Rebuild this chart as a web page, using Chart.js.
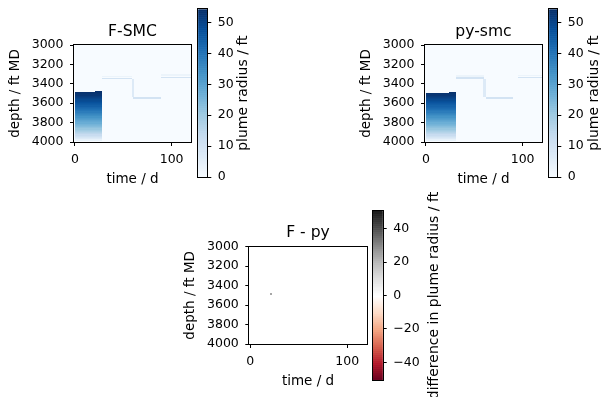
<!DOCTYPE html>
<html>
<head>
<meta charset="utf-8">
<script src="https://cdn.jsdelivr.net/npm/chart.js@4.4.1/dist/chart.umd.min.js"></script>
<style>
html, body { margin: 0; padding: 0; background: #fff; }
#fig { position: relative; width: 613px; height: 397px; overflow: hidden; }
#fig canvas { position: absolute; }
</style>
</head>
<body>
<div id="fig">
  <canvas id="panelF"></canvas>
  <canvas id="panelPy"></canvas>
  <canvas id="panelDiff"></canvas>
  <canvas id="barF"></canvas>
  <canvas id="barPy"></canvas>
  <canvas id="barDiff"></canvas>
</div>
<script>
/*
  plume radius vs depth and time, F-SMC / py-smc and their difference
*/

// ticks
const depthTicks = [3000, 3200, 3400, 3600, 3800, 4000];
const timeTicks = [0, 100];
const radiusTicks = [0, 10, 20, 30, 40, 50];
const diffTicks = [-40, -20, 0, 20, 40];

// colour limits
const radiusMax = 54.3;
const diffLimit = 50.5;

// injection period, 12.5 ft rows below the injection point (row tops, ft MD)
const profileDepthFt = [3485, 3497.5, 3510, 3522.5, 3535, 3547.5, 3560, 3572.5, 3585, 3597.5,
                        3610, 3622.5, 3635, 3647.5, 3660, 3672.5, 3685, 3697.5, 3710, 3722.5,
                        3735, 3747.5, 3760, 3772.5, 3785, 3797.5, 3810, 3822.5, 3835, 3847.5,
                        3860, 3872.5, 3885, 3897.5, 3910, 3922.5, 3935, 3947.5, 3960, 3972.5];
const profileBottomFt = 3985;

// plume radius per row (ft)
const fRadiusFt  = [54, 53.5, 53, 52, 51, 50, 49, 48.5, 47.5, 46.5,
                    45.5, 44.5, 43, 42, 41, 40, 38.5, 37, 36, 35,
                    33.5, 32, 31, 29.5, 28.5, 27.5, 26, 25, 24, 22.5,
                    21, 19.5, 18, 16.5, 15, 13, 11, 9, 7, 4];
const pyRadiusFt = [54, 53.5, 53, 52, 51, 50, 49, 48, 47, 46,
                    45, 44, 43, 42, 41, 39.5, 38.5, 37, 36, 34.5,
                    33.5, 32, 31, 29.5, 28.5, 27, 26, 25, 23.5, 22.5,
                    21, 19.5, 18, 16.5, 15, 13, 11, 9, 7, 4];

// injection blocks: [start d, end d, top ft]
const fBlocks  = [[0, 20.6, 3487], [20.6, 28.5, 3474]];
const pyBlocks = [[0, 23.4, 3497], [23.4, 31, 3481]];

// shut-in traces: [start d, end d, top ft, bottom ft, radius ft]
const fTraces = [
    [28.5, 59, 3316, 3332, 3],
    [28.5, 59, 3336, 3351, 10],
    [58.8, 60.8, 3351, 3538, 7],
    [60, 89.5, 3538, 3552, 10],
    [89.5, 120, 3302, 3318, 3],
    [89.5, 120, 3325, 3340, 10]
];
const pyTraces = [
    [31, 60, 3314, 3330, 3],
    [31, 60, 3334, 3349, 10],
    [59.5, 61.8, 3349, 3540, 7],
    [62, 90.4, 3540, 3554, 10],
    [95, 120, 3306, 3322, 3],
    [95, 120, 3330, 3345, 10]
];

// F - py
const diffCells = [
    [20.8, 22, 3480, 3500, 24]
];

/*
  colour maps
*/

const BLUES = ["#f7fbff", "#deebf7", "#c6dbef", "#9ecae1", "#6baed6",
               "#4292c6", "#2171b5", "#08519c", "#08306b"];
const RDGY = ["#67001f", "#b2182b", "#d6604d", "#f4a582", "#fddbc7", "#ffffff",
              "#e0e0e0", "#bababa", "#878787", "#4d4d4d", "#1a1a1a"];

function hexRgb(h){
    return [1, 3, 5].map(i => parseInt(h.substr(i, 2), 16));
}

function cmapColor(stops, t){
    t = Math.min(1, Math.max(0, t));
    const p = t * (stops.length - 1);
    const i = Math.min(stops.length - 2, Math.floor(p));
    const f = p - i;
    const a = hexRgb(stops[i]);
    const b = hexRgb(stops[i + 1]);
    const c = a.map((v, k) => Math.round(v + (b[k] - v) * f));
    return "rgb(" + c.join(",") + ")";
}

function plumeCells(blocks, radius, traces){
    const cells = [];
    blocks.forEach(([t0, t1, top]) => {
        profileDepthFt.forEach((d, i) => {
            const d0 = i === 0 ? top : d;
            const d1 = i + 1 < profileDepthFt.length ? profileDepthFt[i + 1] : profileBottomFt;
            cells.push([t0, t1, d0, d1, radius[i]]);
        });
    });
    return cells.concat(traces);
}

/*
  layout
*/

Chart.defaults.font.family = "'DejaVu Sans', sans-serif";
Chart.defaults.color = "#000";

const FONT_TICK = 12.5;
const FONT_LABEL = 13.5;
const FONT_CBAR = 14;
const FONT_TITLE = 15.6;

function place(canvas, box){
    canvas.width = box[2];
    canvas.height = box[3];
    canvas.style.left = box[0] + "px";
    canvas.style.top = box[1] + "px";
}

function fmt(v){
    return v < 0 ? "\u2212" + Math.abs(v) : String(v);
}

/*
  heatmap panels
*/

function heatmapLayer(cells, stops, vmin, vmax){
    return {
        id: "heatmap",
        beforeDatasetsDraw(chart){
            const {ctx, chartArea: a, scales: {x, y}} = chart;
            ctx.save();
            ctx.beginPath();
            ctx.rect(a.left, a.top, a.width, a.height);
            ctx.clip();
            ctx.fillStyle = cmapColor(stops, (0 - vmin) / (vmax - vmin));
            ctx.fillRect(a.left, a.top, a.width, a.height);
            cells.forEach(([t0, t1, d0, d1, v]) => {
                const px0 = Math.round(x.getPixelForValue(t0));
                const px1 = Math.round(x.getPixelForValue(t1));
                const py0 = Math.round(y.getPixelForValue(d0));
                const py1 = Math.round(y.getPixelForValue(d1));
                ctx.fillStyle = cmapColor(stops, (v - vmin) / (vmax - vmin));
                ctx.fillRect(Math.min(px0, px1), Math.min(py0, py1),
                             Math.max(1, Math.abs(px1 - px0)), Math.max(1, Math.abs(py1 - py0)));
            });
            ctx.restore();
        },
        afterDraw(chart){
            const {ctx, chartArea: a} = chart;
            ctx.save();
            ctx.strokeStyle = "#000";
            ctx.lineWidth = 1;
            ctx.strokeRect(Math.round(a.left) - 0.5, Math.round(a.top) - 0.5,
                           Math.round(a.right) - Math.round(a.left) + 1,
                           Math.round(a.bottom) - Math.round(a.top) + 1);
            ctx.restore();
        }
    };
}

function renderPanel(id, box, area, title, cells, stops, vmin, vmax){
    const canvas = document.getElementById(id);
    place(canvas, box);

    const yAxisW = area[0] - box[0];
    const xAxisH = box[1] + box[3] - area[3];
    const top = area[1] - box[1];
    const lh = FONT_TITLE * 1.2;
    const titleTop = (top - 13.5) - lh / 2;

    return new Chart(canvas, {
        type: "scatter",
        data: { datasets: [{ data: [] }] },
        options: {
            responsive: false,
            animation: false,
            events: [],
            layout: { padding: { left: 0, top: 0, bottom: 0, right: box[0] + box[2] - area[2] } },
            plugins: {
                legend: { display: false },
                tooltip: { enabled: false },
                title: {
                    display: true,
                    text: title,
                    fullSize: false,
                    color: "#000",
                    font: { size: FONT_TITLE, weight: "normal" },
                    padding: { top: titleTop, bottom: top - titleTop - lh }
                }
            },
            scales: {
                x: {
                    type: "linear",
                    min: -0.9,
                    max: 120,
                    afterBuildTicks: s => { s.ticks = timeTicks.map(v => ({ value: v })); },
                    afterFit: s => { s.height = xAxisH; },
                    ticks: { font: { size: FONT_TICK }, padding: 6, maxRotation: 0, callback: fmt },
                    grid: { drawOnChartArea: false, drawTicks: true, tickLength: 4, color: "#000" },
                    border: { display: false },
                    title: { display: true, text: "time / d", font: { size: FONT_LABEL }, padding: { top: 0, bottom: 7.4 } }
                },
                y: {
                    type: "linear",
                    reverse: true,
                    min: 3000,
                    max: 4000,
                    afterBuildTicks: s => { s.ticks = depthTicks.map(v => ({ value: v })); },
                    afterFit: s => { s.width = yAxisW; },
                    ticks: { font: { size: FONT_TICK }, padding: 6.5, callback: fmt },
                    grid: { drawOnChartArea: false, drawTicks: true, tickLength: 4, color: "#000" },
                    border: { display: false },
                    title: { display: true, text: "depth / ft MD", font: { size: FONT_LABEL }, padding: { top: 6.9, bottom: 0 } }
                }
            }
        },
        plugins: [heatmapLayer(cells, stops, vmin, vmax)]
    });
}

/*
  colour bars
*/

function colorbarLayer(stops, vmin, vmax, label, labelOffset){
    return {
        id: "colorbar",
        beforeDatasetsDraw(chart){
            const {ctx, chartArea: a, scales: {y}} = chart;
            const n = 256;
            ctx.save();
            for(let i = 0; i < n; i++){
                const y0 = y.getPixelForValue(vmin + (vmax - vmin) * i / n);
                const y1 = y.getPixelForValue(vmin + (vmax - vmin) * (i + 1) / n);
                ctx.fillStyle = cmapColor(stops, (i + 0.5) / n);
                ctx.fillRect(a.left, y1, a.width, y0 - y1 + 0.6);
            }
            ctx.strokeStyle = "#000";
            ctx.lineWidth = 1;
            ctx.strokeRect(Math.round(a.left) - 0.5, Math.round(a.top) - 0.5,
                           Math.round(a.right) - Math.round(a.left) + 1,
                           Math.round(a.bottom) - Math.round(a.top) + 1);
            ctx.restore();
        },
        afterDraw(chart){
            const {ctx, chartArea: a} = chart;
            ctx.save();
            ctx.fillStyle = "#000";
            ctx.font = FONT_CBAR + "px 'DejaVu Sans', sans-serif";
            ctx.textAlign = "center";
            ctx.textBaseline = "middle";
            ctx.translate(a.right + labelOffset, (a.top + a.bottom) / 2);
            ctx.rotate(-Math.PI / 2);
            ctx.fillText(label, 0, 0);
            ctx.restore();
        }
    };
}

function renderColorbar(id, box, strip, stops, vmin, vmax, ticks, label, labelOffset){
    const canvas = document.getElementById(id);
    place(canvas, box);

    return new Chart(canvas, {
        type: "scatter",
        data: { datasets: [{ data: [] }] },
        options: {
            responsive: false,
            animation: false,
            events: [],
            layout: {
                padding: {
                    left: strip[0] - box[0],
                    top: strip[1] - box[1],
                    bottom: box[1] + box[3] - strip[3],
                    right: 0
                }
            },
            plugins: { legend: { display: false }, tooltip: { enabled: false } },
            scales: {
                x: { type: "linear", display: false, min: 0, max: 1 },
                y: {
                    type: "linear",
                    position: "right",
                    min: vmin,
                    max: vmax,
                    afterBuildTicks: s => { s.ticks = ticks.map(v => ({ value: v })); },
                    afterFit: s => { s.width = box[0] + box[2] - strip[2]; },
                    ticks: { font: { size: FONT_TICK }, padding: 6.5, callback: fmt },
                    grid: { drawOnChartArea: false, drawTicks: true, tickLength: 4, color: "#000" },
                    border: { display: false }
                }
            }
        },
        plugins: [colorbarLayer(stops, vmin, vmax, label, labelOffset)]
    });
}

/*
  render
*/

renderPanel("panelF", [0, 0, 200, 195], [74, 45, 191, 142], "F-SMC",
            plumeCells(fBlocks, fRadiusFt, fTraces), BLUES, 0, radiusMax);
renderPanel("panelPy", [351, 0, 200, 195], [425, 45, 542, 142], "py-smc",
            plumeCells(pyBlocks, pyRadiusFt, pyTraces), BLUES, 0, radiusMax);
renderPanel("panelDiff", [175, 201, 200, 196], [249.3, 246.7, 366.7, 344], "F - py",
            diffCells, RDGY, -diffLimit, diffLimit);

renderColorbar("barF", [190, -30, 90, 232], [198.3, 9.3, 207.3, 177], BLUES, 0, radiusMax,
               radiusTicks, "plume radius / ft", 36);
renderColorbar("barPy", [541, -30, 72, 232], [549.3, 9.3, 557.3, 177], BLUES, 0, radiusMax,
               radiusTicks, "plume radius / ft", 37);
renderColorbar("barDiff", [365, 180, 100, 217], [373, 211, 382.7, 380], RDGY, -diffLimit, diffLimit,
               diffTicks, "difference in plume radius / ft", 52);
</script>
</body>
</html>
